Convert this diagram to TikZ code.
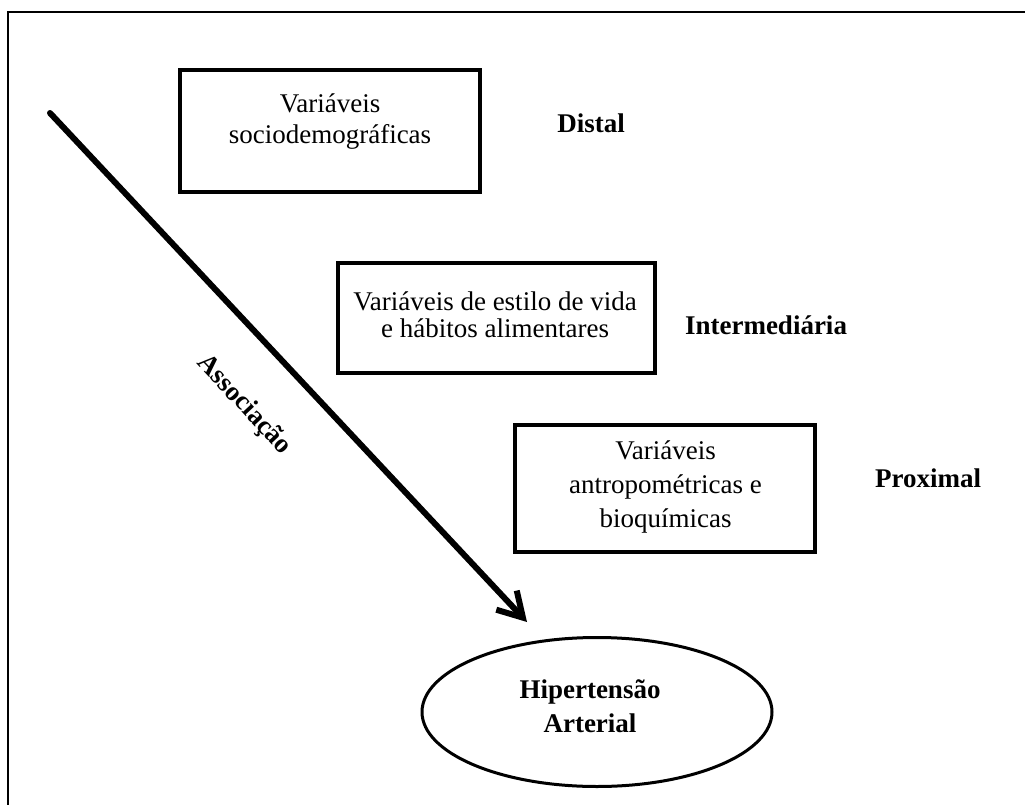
\documentclass[tikz,border=0pt]{standalone}
\usepackage{fontspec}
\setmainfont{Liberation Serif}
\usetikzlibrary{arrows.meta,shapes.geometric}
\tikzset{
  box/.style={draw, line width=3.3pt, inner sep=0pt},
  boxtext/.style={align=center, inner sep=0pt, font=\fontsize{27}{#1}\selectfont},
  level/.style={inner sep=0pt, font=\fontsize{27}{30}\selectfont\bfseries},
}
\begin{document}
\begin{tikzpicture}[x=1pt,y=-1pt]
\useasboundingbox (0,0) rectangle (1025,805);
% frame (only top and left visible)
\coordinate (fTR) at (1025,12);
\coordinate (fTL) at (8,12);
\coordinate (fBL) at (8,805);
\draw[line width=2.5pt] (fTR) -- (fTL) -- (fBL);
% boxes
\node[box, minimum width=300pt, minimum height=122pt] (b1) at (330,131) {};
\node[box, minimum width=317pt, minimum height=110pt] (b2) at (496.5,318) {};
\node[box, minimum width=300pt, minimum height=127pt] (b3) at (665,488.5) {};
\node[boxtext=31pt] (t1) at (330,121.5) {Variáveis\\sociodemográficas};
\node[boxtext=27pt] (t2) at (495,315) {Variáveis de estilo de vida\\e hábitos alimentares};
\node[boxtext=34pt] (t3) at (665.5,487) {Variáveis\\antropométricas e\\bioquímicas};
% levels
\node[level] (l1) at (591,123) {Distal};
\node[level] (l2) at (766,325) {Intermediária};
\node[level] (l3) at (928,478) {Proximal};
% outcome
\node[draw, ellipse, line width=3pt, minimum width=350pt, minimum height=149pt, inner sep=0pt] (ha) at (597,712) {};
\node[boxtext=34pt, font=\fontsize{27}{34}\selectfont\bfseries] (hat) at (590,706) {Hipertensão\\Arterial};
% arrow
\coordinate (aS) at (50,113);
\coordinate (aE) at (527,622);
\draw[line width=6pt, line cap=round, -{Straight Barb[length=24pt,width=28pt,line width=6pt]}] (aS) -- (aE);
\node[level, rotate=-47] (assoc) at (244,405) {Associação};
\end{tikzpicture}
\end{document}
